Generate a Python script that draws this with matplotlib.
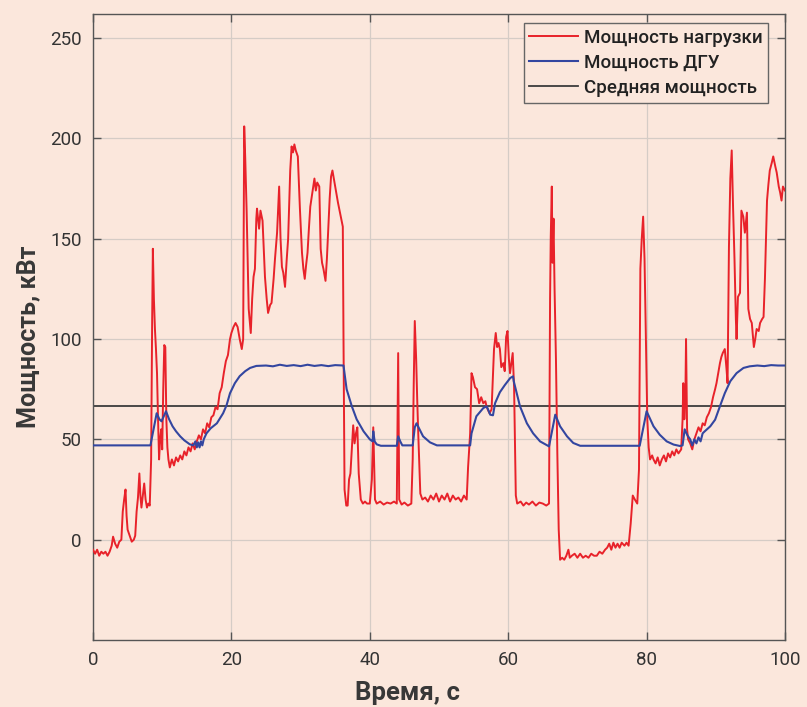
import matplotlib
matplotlib.use("Agg")
import matplotlib.pyplot as plt

# ---- data ----
t_load = [0.0, 0.3, 0.6, 0.9, 1.2, 1.5, 1.8, 2.1, 2.4, 2.7, 2.9, 3.2, 3.5, 3.8, 4.1, 4.3, 4.5, 4.7, 4.85, 5.0,
          5.3, 5.6, 5.9, 6.1, 6.3, 6.5, 6.7, 6.85, 7.0, 7.2, 7.4, 7.6, 7.8, 8.0, 8.2, 8.4, 8.55, 8.65, 8.8, 8.95,
          9.1, 9.25, 9.4, 9.55, 9.7, 9.85, 10.0, 10.15, 10.3, 10.45, 10.6, 10.75, 10.9, 11.1, 11.4, 11.7, 12.0, 12.3, 12.6, 12.9,
          13.2, 13.5, 13.8, 14.1, 14.4, 14.7, 15.0, 15.3, 15.6, 15.9, 16.2, 16.5, 16.8, 17.1, 17.4, 17.7, 18.0, 18.3, 18.6, 18.9,
          19.2, 19.5, 19.8, 20.0, 20.3, 20.6, 20.9, 21.2, 21.5, 21.7, 21.85, 22.0, 22.2, 22.5, 22.8, 23.0, 23.2, 23.4, 23.6, 23.7,
          24.0, 24.2, 24.5, 24.85, 25.1, 25.3, 25.6, 25.8, 26.1, 26.3, 26.6, 26.9, 27.1, 27.3, 27.5, 27.75, 28.0, 28.2, 28.5, 28.7,
          28.9, 29.1, 29.3, 29.6, 29.9, 30.2, 30.4, 30.6, 30.8, 31.0, 31.2, 31.4, 31.7, 32.0, 32.2, 32.4, 32.7, 32.9, 33.1, 33.3,
          33.6, 33.8, 34.0, 34.2, 34.4, 34.6, 34.8, 35.1, 35.4, 35.8, 36.1, 36.2, 36.35, 36.6, 36.8, 37.0, 37.2, 37.4, 37.6, 37.8,
          38.0, 38.2, 38.4, 38.7, 39.0, 39.3, 39.6, 40.0, 40.3, 40.5, 40.75, 41.0, 41.5, 42.0, 42.5, 43.0, 43.5, 43.9, 44.1, 44.25,
          44.6, 45.0, 45.5, 46.0, 46.2, 46.35, 46.5, 46.7, 46.85, 47.0, 47.3, 47.6, 48.0, 48.4, 48.8, 49.2, 49.6, 50.0, 50.4, 50.8,
          51.2, 51.6, 52.0, 52.4, 52.8, 53.2, 53.6, 54.0, 54.2, 54.5, 54.7, 54.9, 55.2, 55.5, 55.8, 56.1, 56.4, 56.7, 56.9, 57.3,
          57.6, 57.95, 58.2, 58.4, 58.6, 58.8, 59.0, 59.3, 59.5, 59.7, 59.9, 60.1, 60.26, 60.45, 60.65, 60.85, 61.0, 61.1, 61.3, 61.8,
          62.2, 62.6, 63.0, 63.5, 64.0, 64.5, 65.0, 65.5, 65.9, 66.05, 66.15, 66.3, 66.4, 66.55, 66.7, 66.9, 67.1, 67.3, 67.5, 67.8,
          68.1, 68.4, 68.7, 68.9, 69.2, 69.6, 70.0, 70.4, 70.8, 71.2, 71.6, 72.0, 72.4, 72.8, 73.2, 73.6, 74.0, 74.3, 74.6, 74.9,
          75.2, 75.5, 75.8, 76.1, 76.4, 76.8, 77.1, 77.4, 77.7, 78.0, 78.3, 78.65, 78.9, 79.1, 79.3, 79.5, 79.7, 79.9, 80.1, 80.3,
          80.5, 80.8, 81.0, 81.3, 81.6, 81.9, 82.2, 82.5, 82.8, 83.1, 83.4, 83.7, 84.0, 84.3, 84.6, 85.0, 85.2, 85.3, 85.45, 85.6,
          85.7, 85.85, 86.0, 86.3, 86.6, 86.9, 87.2, 87.5, 87.8, 88.1, 88.4, 88.7, 89.0, 89.3, 89.6, 89.9, 90.1, 90.4, 90.6, 90.8,
          91.0, 91.3, 91.55, 91.7, 91.9, 92.1, 92.3, 92.5, 92.7, 92.9, 93.0, 93.2, 93.5, 93.7, 93.97, 94.2, 94.5, 94.7, 94.95, 95.2,
          95.5, 95.7, 95.9, 96.2, 96.4, 96.7, 96.9, 97.1, 97.4, 97.6, 97.8, 98.1, 98.3, 98.6, 98.8, 99.1, 99.3, 99.5, 99.7, 100.0]
p_load = [-5, -7, -5, -8, -6, -7, -6, -8, -6, -3, 1.5, -2, -4, -1, 0, 14, 20, 25, 12, 5,
          2, -1, 0, 2, 14, 21, 33, 22, 16, 22, 28, 20, 16, 18, 17, 40, 110, 145, 120, 105,
          95, 83, 60, 40, 50, 55, 45, 75, 97, 96, 60, 46, 40, 36, 40, 37, 41, 39, 42, 40,
          44, 42, 46, 44, 48, 45, 49, 52, 50, 55, 53, 58, 56, 61, 62, 66, 65, 73, 76, 83,
          89, 92, 100, 103, 106, 108, 106, 100, 95, 100, 206, 190, 164, 115, 103, 120, 131, 135, 160, 165,
          155, 164, 159, 131, 120, 113, 117, 118, 130, 140, 153, 176, 150, 136, 133, 126, 140, 150, 184, 196,
          193, 197, 194, 191, 165, 143, 135, 130, 137, 143, 155, 166, 173, 180, 174, 178, 176, 145, 138, 135,
          129, 140, 155, 170, 181, 184, 180, 174, 168, 161, 156, 100, 25, 17, 17, 30, 33, 45, 57, 48,
          53, 56, 33, 20, 18, 19, 18, 18, 30, 56, 20, 18, 19, 17.5, 18.5, 18, 19, 18, 93, 20,
          17.5, 18.5, 17, 18, 40, 78, 109, 90, 70, 53, 23, 20, 21, 19, 22, 20, 23, 19, 22, 20,
          23, 19, 22, 20, 21, 19, 22, 20, 36, 53, 83, 81, 76, 75, 68, 71, 68, 69, 66, 63,
          65, 95, 103, 96, 98, 95, 86, 88, 84, 101, 104, 90, 83, 88, 93, 76, 45, 22, 18, 19,
          17, 18.5, 17.5, 19, 17, 18.5, 18, 17, 18, 120, 151, 176, 138, 160, 125, 90, 43, 5, -10, -9,
          -10, -8, -5, -9, -8, -7, -9, -7, -9, -8, -9, -7, -8, -8, -6, -7, -5, -4, -2, -5,
          -1.5, -4, -2, -4, -1.5, -3, -1.5, -3, 8, 22, 20, 18, 35, 135, 150, 161, 140, 100, 60, 46,
          40, 42, 40, 38, 41, 37, 40, 42, 39, 43, 41, 44, 42, 45, 43, 45, 60, 78, 60, 70,
          100, 55, 50, 48, 45, 50, 53, 56, 54, 58, 57, 61, 63, 66, 71, 75, 78, 84, 88, 91,
          93, 95, 85, 78, 146, 180, 194, 165, 140, 110, 100, 121, 123, 164, 161, 153, 163, 115, 110, 108,
          96, 100, 105, 104, 108, 110, 111, 130, 169, 177, 184, 188, 191, 186, 183, 176, 173, 169, 176, 174]

t_dgu = [0, 8.3, 9.2, 9.6, 9.9, 10.55, 11.0, 11.5, 12.0, 12.6, 13.2, 14.0, 14.5, 14.8, 15.0, 15.2, 15.4, 15.6, 15.8, 16.0,
         16.4, 17.0, 17.9, 18.8, 19.3, 19.8, 20.5, 21.2, 22.0, 22.7, 23.6, 25, 26, 27, 28, 29, 30, 31, 32, 33,
         34, 35, 36.2, 36.65, 37.4, 38.1, 39.1, 40.0, 40.4, 40.5, 40.7, 41.0, 41.6, 43.9, 44.1, 44.4, 44.7, 46.2, 46.5, 46.75,
         47.7, 48.7, 49.7, 54.5, 54.7, 55.4, 56.4, 56.9, 57.4, 57.8, 58.1, 58.8, 59.5, 60.3, 60.7, 60.8, 61.7, 62.7, 63.6, 64.6,
         65.9, 66.8, 67.5, 68.5, 69.4, 70.4, 79.0, 80.0, 81.0, 81.9, 82.9, 83.9, 84.8, 85.2, 85.5, 85.9, 86.3, 86.6, 86.9, 87.2,
         87.5, 87.8, 88.1, 88.4, 89.2, 89.9, 90.6, 91.3, 92.1, 93.0, 94.0, 94.9, 96, 97, 98, 99, 100]
p_dgu = [47, 47, 63, 60, 59, 64, 60, 56.5, 54, 51.5, 49.5, 47.5, 47, 49, 46, 48.5, 46, 49, 47, 50,
         53, 55.5, 58, 63, 67, 73, 78, 81.5, 84, 85.6, 86.6, 86.8, 86.4, 87.2, 86.6, 87, 86.5, 87.2, 86.6, 87,
         86.5, 87, 86.8, 75, 66.5, 60, 54, 50, 49, 54, 49, 47.5, 46.8, 46.8, 51.5, 49, 47, 47, 56, 58,
         51.5, 48.5, 47, 47, 53, 61.5, 65.6, 66.5, 62.3, 62, 68, 73.5, 77, 80.6, 81.4, 79, 66.5, 58, 53, 49,
         46.5, 62.3, 56.5, 51.5, 48.2, 46.8, 46.8, 64, 56.5, 52.3, 49, 47.4, 46.7, 47, 55, 52, 50, 47, 50, 48,
         51, 49, 53, 54, 56.5, 59.8, 66.5, 73, 79, 83, 85.6, 86.4, 86.8, 86.5, 87, 86.8, 86.8]

mean_power = 66.5

series_labels = ["Мощность нагрузки", "Мощность ДГУ", "Средняя мощность"]
x_ticks = [0, 20, 40, 60, 80, 100]
y_ticks = [0, 50, 100, 150, 200, 250]
x_label = "Время, с"
y_label = "Мощность, кВт"

# ---- style ----
bg = "#fbe7dc"
red = "#e8222a"
blue = "#3346a0"
dark = "#3c3c3c"

plt.rcParams['font.family'] = ['Roboto', 'DejaVu Sans']

fig = plt.figure(figsize=(8.07, 7.07), dpi=100, facecolor=bg)
ax = fig.add_axes([93/807, 67/707, 692/807, 626/707])
ax.set_facecolor(bg)

ax.plot(t_load, p_load, color=red, lw=1.4, label=series_labels[0], zorder=3)
ax.plot(t_dgu, p_dgu, color=blue, lw=1.5, label=series_labels[1], zorder=4)
ax.axhline(mean_power, color=dark, lw=1.3, label=series_labels[2], zorder=2)

ax.set_xlim(0, 100)
ax.set_ylim(-50, 262)
ax.set_xticks(x_ticks)
ax.set_yticks(y_ticks)
ax.grid(True, color="#d5ccc6", lw=0.9)
ax.set_axisbelow(True)

ax.tick_params(direction='in', length=6, width=1, colors="#555555", labelcolor="#333333",
               labelsize=13.5, top=True, right=True, pad=8)
for s in ax.spines.values():
    s.set_color("#555555")
    s.set_linewidth(1.0)

ax.set_xlabel(x_label, fontsize=18.5, fontweight='bold', color="#383838", va='top')
ax.xaxis.set_label_coords(0.455, -0.065)
ax.set_ylabel(y_label, fontsize=18, fontweight='bold', color="#383838")
ax.yaxis.set_label_coords(-0.076, 0.484)

leg = ax.legend(loc='upper right', bbox_to_anchor=(0.9754, 0.9856), borderaxespad=0,
                fontsize=13.5, frameon=True, fancybox=False, handlelength=2.6,
                handletextpad=0.3, labelspacing=0.38, borderpad=0.3)
leg.get_frame().set_facecolor(bg)
leg.get_frame().set_edgecolor("#666666")
leg.get_frame().set_linewidth(1.0)
leg.get_frame().set_alpha(1)
for txt in leg.get_texts():
    txt.set_color("#222222")
    txt.set_fontweight('medium')

fig.savefig("out.png", dpi=100, facecolor=bg)
